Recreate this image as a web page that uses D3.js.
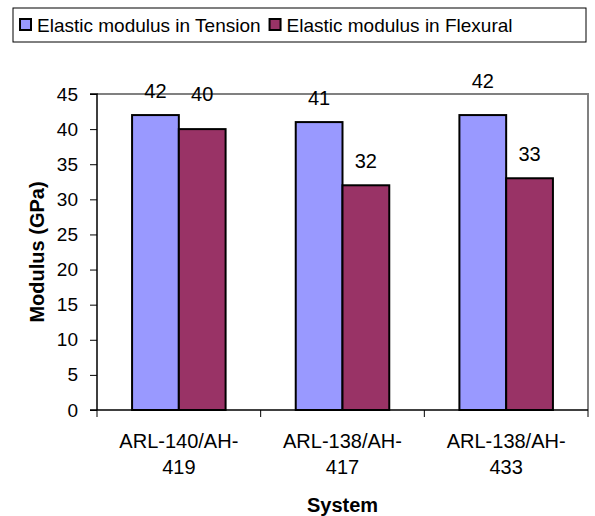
<!DOCTYPE html>
<html>
<head>
<meta charset="utf-8">
<script src="https://cdn.jsdelivr.net/npm/d3@7"></script>
<style>
  html, body { margin: 0; padding: 0; background: #fff; }
  svg { display: block; }
  svg text { font-family: "Liberation Sans", Arial, sans-serif; fill: #000; }
</style>
</head>
<body>
<svg id="chart" width="595" height="516"></svg>
<script>
// Systems tested and their elastic moduli (GPa)
const systems = [["ARL-140/AH-", "419"], ["ARL-138/AH-", "417"], ["ARL-138/AH-", "433"]];
const seriesNames = ["Elastic modulus in Tension", "Elastic modulus in Flexural"];
const tension = [42, 41, 42];
const flexural = [40, 32, 33];
const yTicks = [0, 5, 10, 15, 20, 25, 30, 35, 40, 45];
const colors = ["#9999FF", "#993366"];

const FONT = "'Liberation Sans', Arial, sans-serif";
const svg = d3.select("#chart");
const plot = { left: 97, right: 588, top: 94, bottom: 410 };

const x0 = d3.scaleBand()
  .domain(d3.range(systems.length))
  .range([plot.left, plot.right])
  .paddingInner(0).paddingOuter(0);

// Excel-style clustering: gap width 150% of a bar
const barW = x0.bandwidth() / (2 + 1.5);
const x1 = d3.scaleBand().domain([0, 1])
  .range([x0.bandwidth() / 2 - barW, x0.bandwidth() / 2 + barW]);

const y = d3.scaleLinear().domain([0, 45]).range([plot.bottom, plot.top]);

// plot frame (grey top & right)
svg.append("path")
  .attr("d", `M${plot.left},${plot.top}H${plot.right}V${plot.bottom}`)
  .attr("fill", "none").attr("stroke", "#808080").attr("stroke-width", 2);

// bars
const rows = systems.map((s, i) => [tension[i], flexural[i]]);
const groups = svg.append("g").selectAll("g").data(rows).join("g")
  .attr("transform", (d, i) => `translate(${x0(i)},0)`);
groups.selectAll("rect").data(d => d.map((v, k) => ({ v, k }))).join("rect")
  .attr("x", d => x1(d.k))
  .attr("width", x1.bandwidth())
  .attr("y", d => y(d.v))
  .attr("height", d => y(0) - y(d.v))
  .attr("fill", d => colors[d.k])
  .attr("stroke", "#000").attr("stroke-width", 2);

// value labels (two of them sit a little higher to clear neighbours)
const lift = [[0, 11], [0, 0], [10, 0]];
groups.selectAll("text").data((d, i) => d.map((v, k) => ({ v, k, i }))).join("text")
  .attr("x", d => x1(d.k) + x1.bandwidth() / 2)
  .attr("y", d => y(d.v) - 17 - lift[d.i][d.k])
  .attr("text-anchor", "middle")
  .attr("font-size", 20)
  .text(d => d.v);

// y axis
const yAxis = svg.append("g")
  .attr("transform", `translate(${plot.left},0)`)
  .call(d3.axisLeft(y).tickValues(yTicks).tickSize(7).tickPadding(12));
yAxis.select(".domain").attr("stroke", "#000").attr("stroke-width", 1.5)
  .attr("d", `M-7,${plot.top}H0V${plot.bottom}`);
yAxis.selectAll(".tick line").attr("stroke", "#000");
yAxis.selectAll(".tick text").attr("font-size", 19).attr("font-family", FONT).attr("fill", "#000");

// x axis
const xAxis = svg.append("g")
  .attr("transform", `translate(0,${plot.bottom})`);
xAxis.append("line")
  .attr("x1", plot.left - 7).attr("x2", plot.right)
  .attr("stroke", "#000").attr("stroke-width", 1.5);
xAxis.selectAll("line.tk").data(d3.range(systems.length + 1)).join("line")
  .attr("class", "tk")
  .attr("x1", i => plot.left + i * x0.bandwidth())
  .attr("x2", i => plot.left + i * x0.bandwidth())
  .attr("y1", 0).attr("y2", 7)
  .attr("stroke", "#000").attr("stroke-width", 1);
const catLabels = xAxis.selectAll("text").data(systems).join("text")
  .attr("x", (d, i) => x0(i) + x0.bandwidth() / 2)
  .attr("y", 38)
  .attr("text-anchor", "middle")
  .attr("font-size", 20);
catLabels.selectAll("tspan").data(d => d).join("tspan")
  .attr("x", function () { return this.parentNode.getAttribute("x"); })
  .attr("dy", (d, j) => j === 0 ? 0 : 26)
  .text(d => d);

// axis titles
svg.append("text")
  .attr("x", (plot.left + plot.right) / 2).attr("y", 512)
  .attr("text-anchor", "middle").attr("font-weight", "bold").attr("font-size", 20)
  .text("System");
svg.append("text")
  .attr("transform", `translate(44,${(plot.top + plot.bottom) / 2}) rotate(-90)`)
  .attr("text-anchor", "middle").attr("font-weight", "bold").attr("font-size", 20)
  .text("Modulus (GPa)");

// legend
const legend = svg.append("g");
legend.append("rect")
  .attr("x", 13).attr("y", 8).attr("width", 573).attr("height", 34)
  .attr("fill", "#fff").attr("stroke", "#000").attr("stroke-width", 1);
let lx = 20;
seriesNames.forEach((name, k) => {
  legend.append("rect")
    .attr("x", lx).attr("y", 19).attr("width", 11).attr("height", 11)
    .attr("fill", colors[k]).attr("stroke", "#000").attr("stroke-width", 2);
  const t = legend.append("text")
    .attr("x", lx + 17).attr("y", 32)
    .attr("font-size", 19)
    .text(name);
  lx += 17 + t.node().getComputedTextLength() + 9;
});
</script>
</body>
</html>
